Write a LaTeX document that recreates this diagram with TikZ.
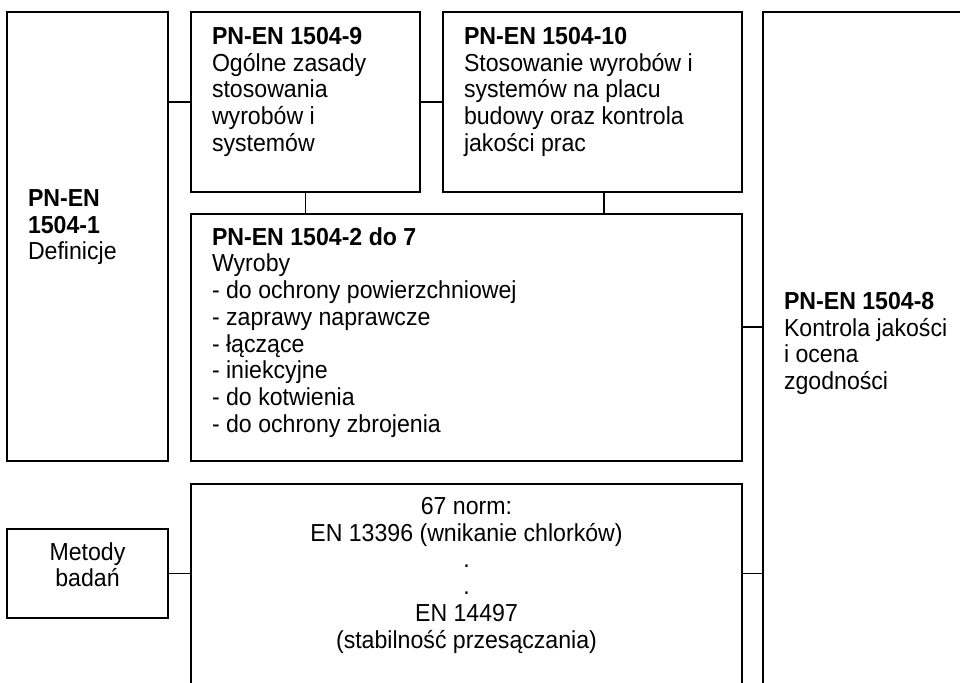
\documentclass[tikz,border=0pt]{standalone}
\usepackage{fontspec}
\setmainfont[FakeStretch=0.94]{Liberation Sans}
\begin{document}
\begin{tikzpicture}[x=1pt,y=-1pt,
  box/.style={draw=black,line width=1.5pt,rectangle,inner sep=0pt,outer sep=0pt,anchor=north west},
  txt/.style={inner sep=0pt,outer sep=0pt,font={\fontsize{24.6}{26.7}\selectfont}},
  conn/.style={draw=black,line width=1.5pt}]
\clip (0,0) rectangle (960,682);
\fill[white] (0,0) rectangle (960,682);
% boxes
\node[box,minimum width=161pt,minimum height=449pt] (b1) at (7,12) {};
\node[box,minimum width=229pt,minimum height=180pt] (b9) at (191,12) {};
\node[box,minimum width=299pt,minimum height=180pt] (b10) at (443,12) {};
\node[box,minimum width=551pt,minimum height=247pt] (b27) at (191,214) {};
\node[box,minimum width=217pt,minimum height=688pt] (b8) at (763,12) {};
\node[box,minimum width=551pt,minimum height=216pt] (bn) at (191,484) {};
\node[box,minimum width=161pt,minimum height=89pt] (bm) at (7,529) {};
% texts
\node[txt,anchor=north west,align=left] (t1) at (28,189.4) {\textbf{PN-EN}\\\textbf{1504-1}\\Definicje};
\node[txt,anchor=north west,align=left] (t9) at (212,27.4) {\textbf{PN-EN 1504-9}\\Ogólne zasady\\stosowania\\wyrobów i\\systemów};
\node[txt,anchor=north west,align=left] (t10) at (464,27.4) {\textbf{PN-EN 1504-10}\\Stosowanie wyrobów i\\systemów na placu\\budowy oraz kontrola\\jakości prac};
\node[txt,anchor=north west,align=left] (t27) at (212,227.4) {\textbf{PN-EN 1504-2 do 7}\\Wyroby\\- do ochrony powierzchniowej\\- zaprawy naprawcze\\- łączące\\- iniekcyjne\\- do kotwienia\\- do ochrony zbrojenia};
\node[txt,anchor=north west,align=left] (t8) at (784,292.4) {\textbf{PN-EN 1504-8}\\Kontrola jakości\\i ocena\\zgodności};
\node[txt,anchor=north,align=center] (tn) at (466.5,497.4) {67 norm:\\EN 13396 (wnikanie chlorków)\\.\\.\\EN 14497\\(stabilność przesączania)};
\node[txt,anchor=north,align=center] (tm) at (87.5,542.4) {Metody\\badań};
% connectors
\draw[conn] (b9.west) -- (b9.west -| b1.east);
\draw[conn] (b9.east) -- (b10.west);
\draw[conn] (b9.south) -- (b9.south |- b27.north);
\coordinate (c10) at ([xshift=11.5pt]b10.south);
\draw[conn] (c10) -- (c10 |- b27.north);
\coordinate (c27) at ([yshift=10.5pt]b27.east);
\draw[conn] (c27) -- (c27 -| b8.west);
\draw[conn] (bm.east) -- (bm.east -| bn.west);
\coordinate (cn) at (bm.east -| bn.east);
\draw[conn] (cn) -- (cn -| b8.west);
\end{tikzpicture}
\end{document}
